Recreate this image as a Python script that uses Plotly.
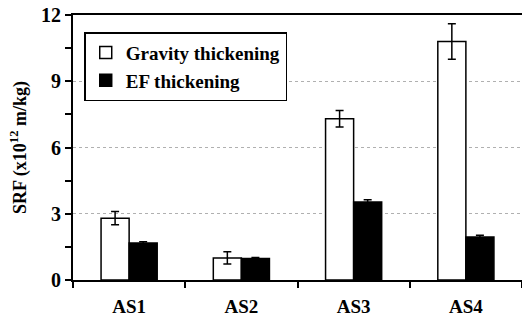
import plotly.graph_objects as go

categories = ["AS1", "AS2", "AS3", "AS4"]
gravity = [2.8, 1.0, 7.3, 10.8]
gravity_err = [0.3, 0.28, 0.37, 0.8]
ef = [1.68, 0.97, 3.53, 1.95]
ef_err = [0.05, 0.05, 0.1, 0.08]

font_family = "'Liberation Serif', 'Times New Roman', Times, serif"

fig = go.Figure()
fig.add_trace(go.Bar(
    x=categories, y=gravity, name="<b>Gravity thickening</b>",
    marker=dict(color="white", line=dict(color="black", width=1.5)),
    error_y=dict(type="data", array=gravity_err, color="black", thickness=1.5, width=4),
))
fig.add_trace(go.Bar(
    x=categories, y=ef, name="<b>EF thickening</b>",
    marker=dict(color="black", line=dict(color="black", width=1.5)),
    error_y=dict(type="data", array=ef_err, color="black", thickness=1.5, width=4),
))

fig.update_layout(
    width=522, height=323,
    margin=dict(l=73, r=0, t=15, b=43),
    paper_bgcolor="white", plot_bgcolor="white",
    barmode="group", bargap=0.5, bargroupgap=0,
    font=dict(family=font_family, size=18, color="black"),
    showlegend=True,
    legend=dict(
        x=0.025, y=0.935, xanchor="left", yanchor="top",
        bordercolor="black", borderwidth=1.5, bgcolor="white",
        font=dict(family=font_family, size=19, color="black"),
        tracegroupgap=0, itemwidth=30,
    ),
)
fig.update_xaxes(
    type="category", tickson="boundaries", ticks="outside", ticklen=6,
    tickwidth=1.5, tickcolor="black",
    showline=True, linecolor="black", linewidth=2, mirror=True,
    showgrid=False,
    tickfont=dict(family=font_family, size=19, color="black"),
    ticklabelstandoff=8,
    tickvals=categories, ticktext=["<b>%s</b>" % c for c in categories],
)
fig.update_yaxes(
    range=[0, 12], tickvals=[0, 3, 6, 9, 12],
    ticktext=["<b>0</b>", "<b>3</b>", "<b>6</b>", "<b>9</b>", "<b>12</b>"],
    ticks="outside", ticklen=6, tickwidth=1.5, tickcolor="black",
    minor=dict(tickvals=[1.5, 4.5, 7.5, 10.5], ticks="outside", ticklen=6, tickwidth=1.5, tickcolor="black", showgrid=False),
    showline=True, linecolor="black", linewidth=2,
    showgrid=True, gridcolor="#b0b0b0", gridwidth=1, griddash="dot",
    zeroline=False,
    tickfont=dict(family=font_family, size=20, color="black"),
    title=dict(text="<b>SRF (x10<sup>12</sup> m/kg)</b>", standoff=10,
               font=dict(family=font_family, size=18, color="black")),
)

fig.write_html("out.html")
